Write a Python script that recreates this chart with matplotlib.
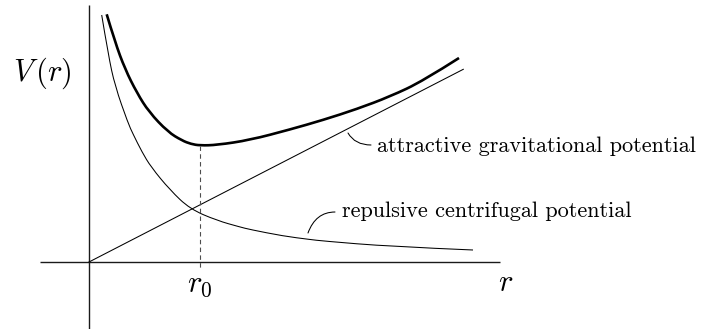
import numpy as np
import matplotlib
matplotlib.use("Agg")
import matplotlib.pyplot as plt
from matplotlib.patches import FancyArrowPatch, PathPatch
from matplotlib.path import Path

plt.rcParams["mathtext.fontset"] = "cm"

# ── curve samples (r, V), origin at the axis crossing ────────────────────────
r_rep = [0.127, 0.193, 0.26, 0.39, 0.44, 0.53, 0.62, 0.81, 1.01, 1.28,
         1.51, 1.61, 1.94, 2.21, 2.34, 3.01, 3.84]
v_rep = [2.47, 2.07, 1.76, 1.39, 1.28, 1.10, 0.95, 0.72, 0.53, 0.415,
         0.35, 0.325, 0.26, 0.225, 0.21, 0.155, 0.12]

r_grav = [0.0, 3.743]
v_grav = [0.0, 1.927]

r_tot = [0.177, 0.26, 0.36, 0.48, 0.60, 0.79, 0.93, 1.02, 1.11, 1.28,
         1.61, 2.01, 2.34, 2.68, 3.01, 3.34, 3.70]
v_tot = [2.477, 2.20, 1.93, 1.69, 1.50, 1.30, 1.215, 1.18, 1.165, 1.17,
         1.22, 1.325, 1.42, 1.53, 1.655, 1.81, 2.04]

i_min = int(np.argmin(v_tot))
r0, v0 = r_tot[i_min], v_tot[i_min]


def smooth_curve(ax, xs, ys, **kw):
    """Quadratic B-spline path through the midpoints of the samples."""
    pts = np.column_stack([xs, ys])
    verts = [pts[0]]
    codes = [Path.MOVETO]
    for i in range(1, len(pts) - 1):
        end = pts[-1] if i == len(pts) - 2 else (pts[i] + pts[i + 1]) / 2
        verts += [pts[i], end]
        codes += [Path.CURVE3, Path.CURVE3]
    patch = PathPatch(Path(verts, codes), fill=False, **kw)
    ax.add_patch(patch)
    return patch


fig = plt.figure(figsize=(7.02, 3.29), dpi=100)
ax = fig.add_axes([0, 0, 1, 1])
ax.set_xlim(-0.89, 6.13)
ax.set_ylim(-0.67, 2.62)
ax.axis("off")

# coordinate axes
ax.plot([-0.49, 4.11], [0, 0], color="0.1", lw=1.0, solid_capstyle="butt")
ax.plot([0, 0], [-0.67, 2.57], color="0.1", lw=1.0, solid_capstyle="butt")

# potentials
ax.plot(r_grav, v_grav, color="black", lw=0.75)
smooth_curve(ax, r_rep, v_rep, color="black", lw=0.75)
smooth_curve(ax, r_tot, v_tot, color="black", lw=1.9, capstyle="butt")

# r0 marker down from the minimum
ax.plot([r0, r0], [v0, -0.08], color="0.3", lw=0.8, linestyle=(0, (4, 3)))

# labels
ax.text(-0.47, 1.89, r"$V\,(r)$", fontsize=22, ha="center", va="center")
ax.text(r0, -0.30, r"$r_0$", fontsize=22, ha="center", va="baseline")
ax.text(4.17, -0.29, r"$r$", fontsize=22, ha="center", va="baseline")

ax.text(2.88, 1.10, "attractive gravitational potential", family="cmr10",
        fontsize=16, ha="left", va="baseline")
ax.text(2.53, 0.45, "repulsive centrifugal potential", family="cmr10",
        fontsize=16, ha="left", va="baseline")

# leader hooks from the labels to their curves
ax.add_patch(FancyArrowPatch((2.59, 1.29), (2.82, 1.17), arrowstyle="-",
                             connectionstyle="angle3,angleA=-60,angleB=0",
                             shrinkA=0, shrinkB=0, color="black", lw=0.75))
ax.add_patch(FancyArrowPatch((2.19, 0.29), (2.46, 0.50), arrowstyle="-",
                             connectionstyle="angle3,angleA=70,angleB=0",
                             shrinkA=0, shrinkB=0, color="black", lw=0.75))

fig.savefig("out.png", dpi=100)
